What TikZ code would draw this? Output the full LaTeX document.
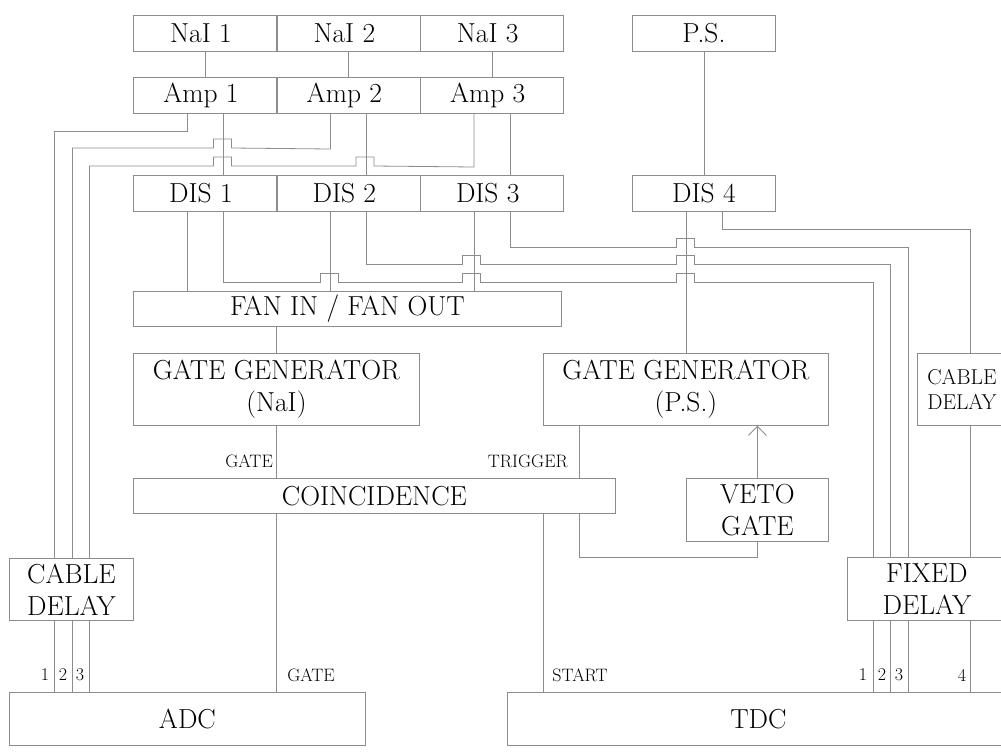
\documentclass[tikz,border=0pt]{standalone}
\usetikzlibrary{matrix,positioning,arrows.meta}
\tikzset{
box/.style={
  draw=black!45,
  line width=0.8pt,
  align=center,
  inner sep=0pt,
  font=\fontsize{27.5}{32}\selectfont
  },
smallbox/.style={
  box,
  font=\fontsize{21.5}{25}\selectfont
  },
modrow/.style={
  matrix of nodes,
  inner sep=0pt,
  column sep=-\pgflinewidth,
  nodes={box,minimum width=143pt,minimum height=36pt}
  },
wire/.style={draw=black!45,line width=0.8pt},
lbl/.style={font=\fontsize{18}{20}\selectfont,inner sep=0pt}
}
\begin{document}
\begin{tikzpicture}[x=1pt,y=-1pt]
\useasboundingbox (0,0) rectangle (1001,753);

\matrix[modrow,anchor=north west] at (133,14.5) (nai)
{
NaI 1 & NaI 2 & NaI 3 \\
};

\matrix[modrow,anchor=north west] at (133,77) (amp)
{
Amp 1 & Amp 2 & Amp 3 \\
};

\matrix[modrow,anchor=north west] at (133,175) (dis)
{
DIS 1 & DIS 2 & DIS 3 \\
};

\node[box,anchor=north west,minimum width=143pt,minimum height=36pt] (ps) at (632,14.5) {P.S.};
\node[box,anchor=north west,minimum width=143pt,minimum height=36pt] (dis4) at (632,175) {DIS 4};

\node[box,anchor=north west,minimum width=428pt,minimum height=35pt] (fan) at (133,291) {FAN IN / FAN OUT};
\node[box,anchor=north west,minimum width=286pt,minimum height=72pt] (ggnai) at (133,353) {GATE GENERATOR\\(NaI)};
\node[box,anchor=north west,minimum width=285pt,minimum height=72pt] (ggps) at (543,353) {GATE GENERATOR\\(P.S.)};
\node[smallbox,anchor=north west,minimum width=89pt,minimum height=72pt] (cdr) at (917,353) {CABLE\\DELAY};
\node[box,anchor=north west,minimum width=482pt,minimum height=35pt] (coinc) at (133,478) {COINCIDENCE};
\node[box,anchor=north west,minimum width=142pt,minimum height=63pt] (veto) at (686,478) {VETO\\GATE};
\node[box,anchor=north west,minimum width=124pt,minimum height=62pt] (cdl) at (9,558) {CABLE\\DELAY};
\node[box,anchor=north west,minimum width=159pt,minimum height=63pt] (fixd) at (847,557) {FIXED\\DELAY};
\node[box,anchor=north west,minimum width=356pt,minimum height=53pt] (adc) at (9,692) {ADC};
\node[box,anchor=north west,minimum width=502pt,minimum height=53pt] (tdc) at (507,692) {TDC};

% signal labels
\node[lbl,anchor=east] (gatein) at (273,461) {GATE};
\node[lbl,anchor=east] (trig) at (568,461) {TRIGGER};
\node[lbl] (adcgate) at (311,675) {GATE};
\node[lbl] (tdcstart) at (580,675) {START};
\node[lbl] (adc1) at (45,675) {1};
\node[lbl] (adc2) at (63,675) {2};
\node[lbl] (adc3) at (80,675) {3};
\node[lbl] (tdc1) at (863,675) {1};
\node[lbl] (tdc2) at (882,675) {2};
\node[lbl] (tdc3) at (899,675) {3};
\node[lbl] (tdc4) at (962,675) {4};

% detectors
\draw[wire] (nai-1-1) -- (amp-1-1);
\draw[wire] (nai-1-2) -- (amp-1-2);
\draw[wire] (nai-1-3) -- (amp-1-3);
\draw[wire] (ps) -- (dis4);

% amplifiers
\draw[wire] ([xshift=-18pt]amp-1-1.south) -- ++(0,17) -| ([xshift=-17pt]cdl.north);
\draw[wire] ([xshift=-18pt]amp-1-2.south) -- ++(0,35) -- (231.5,148) -- ++(0,-9) -- ++(-18,0) -- ++(0,9)
  -| ([xshift=1pt]cdl.north);
\draw[wire] ([xshift=-18pt]amp-1-3.south) -- ++(0,53) -- (374,166) -- ++(0,-9) -- ++(-18,0) -- ++(0,9)
  -- (231.5,166) -- ++(0,-9) -- ++(-18,0) -- ++(0,9) -| ([xshift=18pt]cdl.north);
\draw[wire] ([xshift=18pt]amp-1-1.south) -- ([xshift=18pt]dis-1-1.north);
\draw[wire] ([xshift=18pt]amp-1-2.south) -- ([xshift=18pt]dis-1-2.north);
\draw[wire] ([xshift=18pt]amp-1-3.south) -- ([xshift=18pt]dis-1-3.north);

\draw[wire] ([xshift=-17pt]cdl.south) -- ([xshift=-17pt]cdl.south |- adc.north);
\draw[wire] ([xshift=1pt]cdl.south) -- ([xshift=1pt]cdl.south |- adc.north);
\draw[wire] ([xshift=18pt]cdl.south) -- ([xshift=18pt]cdl.south |- adc.north);

% discriminators
\draw[wire] ([xshift=-18pt]dis-1-1.south) -- ([xshift=-18pt]dis-1-1.south |- fan.north);
\draw[wire] ([xshift=-18pt]dis-1-2.south) -- ([xshift=-18pt]dis-1-2.south |- fan.north);
\draw[wire] ([xshift=-18pt]dis-1-3.south) -- ([xshift=-18pt]dis-1-3.south |- fan.north);
\draw[wire] ([xshift=-18pt]dis4.south) -- ([xshift=-18pt]dis4.south |- ggps.north);

\draw[wire] ([xshift=18pt]dis-1-1.south) |- (320,282) -- ++(0,-9) -- ++(18,0) -- ++(0,9)
  -- (462.5,282) -- ++(0,-9) -- ++(18,0) -- ++(0,9)
  -- (676.5,282) -- ++(0,-9) -- ++(18,0) -- ++(0,9) -| ([xshift=-53.5pt]fixd.north);
\draw[wire] ([xshift=18pt]dis-1-2.south) |- (462.5,264) -- ++(0,-9) -- ++(18,0) -- ++(0,9)
  -- (676.5,264) -- ++(0,-9) -- ++(18,0) -- ++(0,9) -| ([xshift=-36.5pt]fixd.north);
\draw[wire] ([xshift=18pt]dis-1-3.south) |- (676.5,247) -- ++(0,-9) -- ++(18,0) -- ++(0,9)
  -| ([xshift=-18.5pt]fixd.north);
\draw[wire] ([xshift=18pt]dis4.south) -- ++(0,18) -| ([xshift=8.5pt]cdr.north);

% delays to TDC
\draw[wire] ([xshift=8.5pt]cdr.south) -- ([xshift=8.5pt]cdr.south |- fixd.north);
\draw[wire] ([xshift=-53.5pt]fixd.south) -- ([xshift=-53.5pt]fixd.south |- tdc.north);
\draw[wire] ([xshift=-36.5pt]fixd.south) -- ([xshift=-36.5pt]fixd.south |- tdc.north);
\draw[wire] ([xshift=-18.5pt]fixd.south) -- ([xshift=-18.5pt]fixd.south |- tdc.north);
\draw[wire] ([xshift=43.5pt]fixd.south) -- ([xshift=43.5pt]fixd.south |- tdc.north);

% gates and coincidence
\draw[wire] (ggnai.north |- fan.south) -- (ggnai.north);
\draw[wire] (ggnai.south) -- (ggnai.south |- coinc.north);
\draw[wire] (ggnai.south |- coinc.south) -- (ggnai.south |- adc.north);
\draw[wire] ([xshift=-106.5pt]ggps.south) -- ([xshift=-106.5pt]ggps.south |- coinc.north);
\draw[wire] ([xshift=-106.5pt]ggps.south |- coinc.south) -- ++(0,44) -| (veto.south);
\draw[wire,-{Straight Barb[length=9pt,width=18pt]}] (veto.north) -- (veto.north |- ggps.south);
\draw[wire] ([xshift=169pt]coinc.south) -- ([xshift=169pt]coinc.south |- tdc.north);
\end{tikzpicture}
\end{document}
